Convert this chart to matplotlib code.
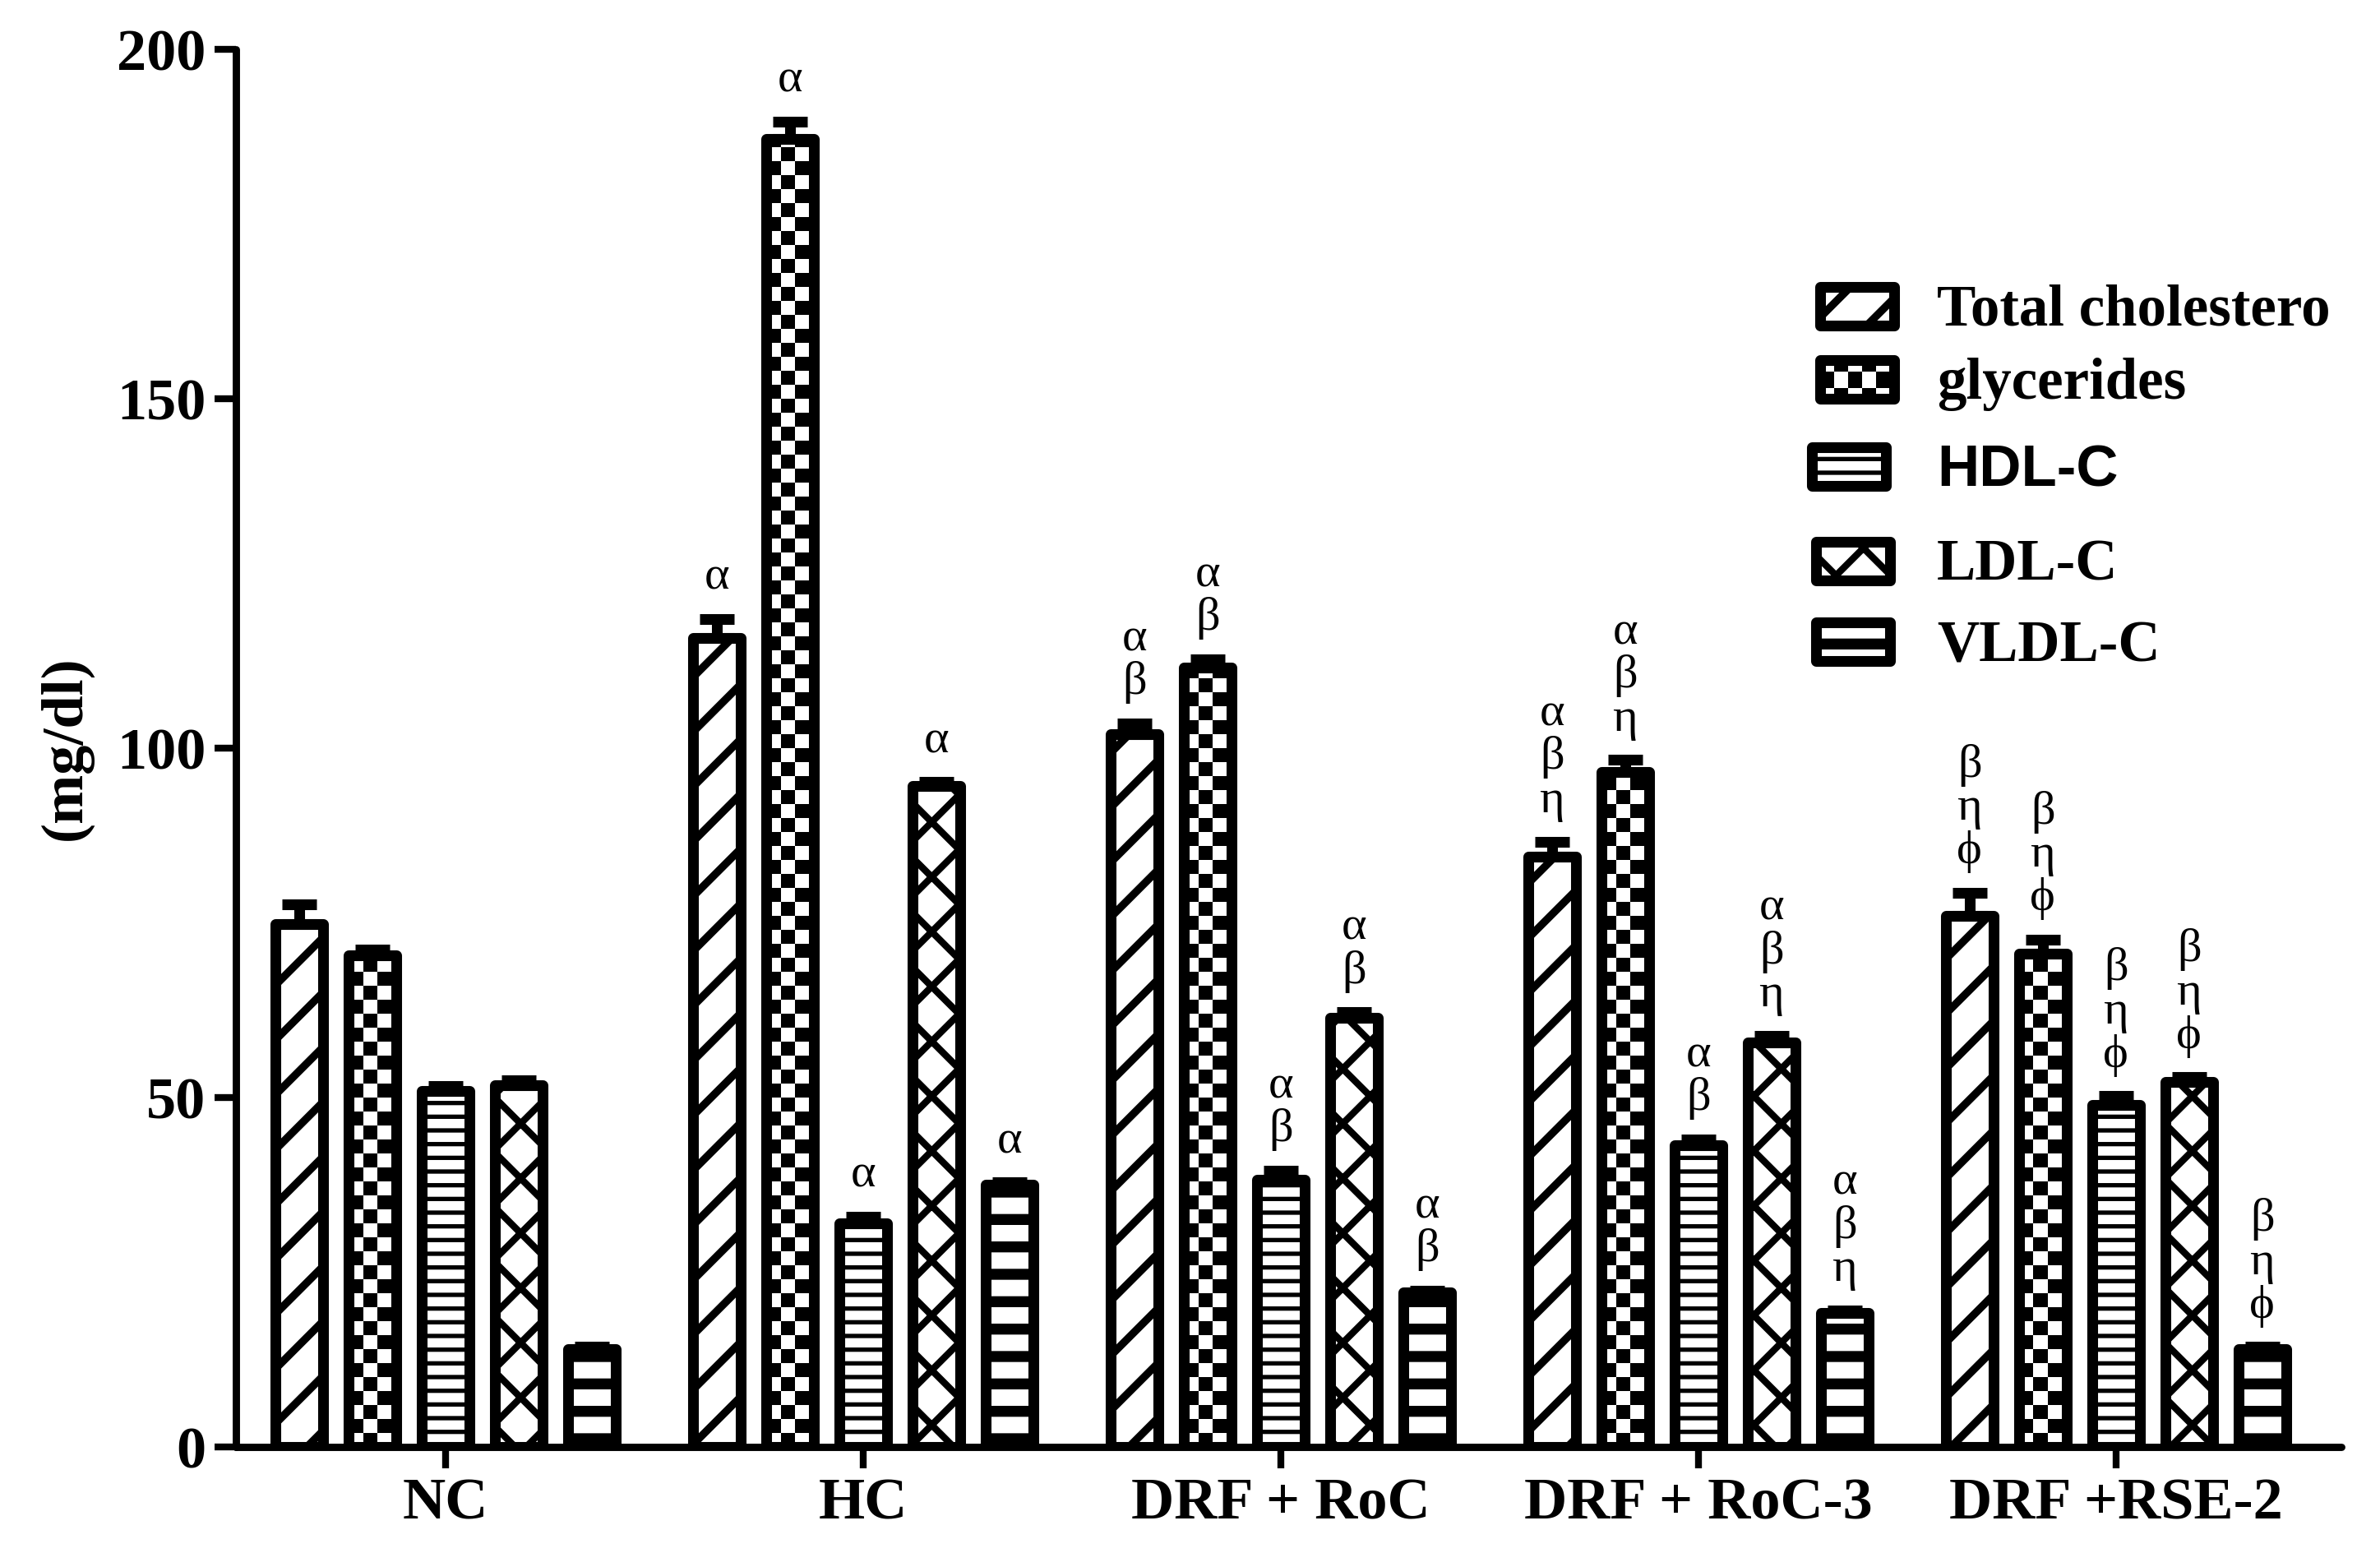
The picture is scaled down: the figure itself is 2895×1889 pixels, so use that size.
"""Lipid profile grouped bar chart (mg/dl) with hatched bars and significance marks."""

import matplotlib

matplotlib.use("Agg")
import matplotlib.pyplot as plt
import matplotlib.transforms as mtransforms
import numpy as np
from matplotlib.collections import PatchCollection
from matplotlib.patches import Rectangle

groups = ["NC", "HC", "DRF + RoC", "DRF + RoC-3", "DRF +RSE-2"]
series = ["Total cholestero", "glycerides", "HDL-C", "LDL-C", "VLDL-C"]

total_chol = [74.8, 115.8, 102.0, 84.5, 76.0]
total_chol_err = [2.9, 2.7, 1.5, 2.1, 3.3]
triglycerides = [70.3, 187.2, 111.5, 96.6, 70.6]
triglycerides_err = [0.9, 2.5, 1.2, 1.7, 2.0]
hdl = [51.0, 32.0, 38.2, 43.2, 49.0]
hdl_err = [0.6, 1.0, 1.3, 0.8, 1.2]
ldl = [51.8, 94.6, 61.4, 57.9, 52.2]
ldl_err = [0.7, 0.6, 0.8, 0.9, 0.7]
vldl = [14.0, 37.5, 22.1, 19.2, 14.0]
vldl_err = [0.3, 0.4, 0.3, 0.3, 0.3]

total_sig = ["", "α", "αβ", "αβη", "βηϕ"]
tg_sig = ["", "α", "αβ", "αβη", "βηϕ"]
hdl_sig = ["", "α", "αβ", "αβ", "βηϕ"]
ldl_sig = ["", "α", "αβ", "αβη", "βηϕ"]
vldl_sig = ["", "α", "αβ", "αβη", "βηϕ"]

yticks = [0, 50, 100, 150, 200]
ylabel = "(mg/dl)"

SERIF = ["Liberation Serif", "DejaVu Serif"]
SANS = ["Liberation Sans", "DejaVu Sans"]
plt.rcParams["font.family"] = SERIF

W, H, DPI = 2895, 1889, 200
EDGE = 4.7
STEP = 0.1752
WIDTH = 0.114
CHECK_W = 0.0335
CHECK_H = 2.0

# hatch, hatch linewidth, legend font
styles = [
    ("/", 3.4, SERIF),
    ("checker", 0.0, SERIF),
    ("--", 1.9, SANS),
    ("x", 3.0, SERIF),
    ("-", 4.8, SERIF),
]


def add_checker(container, box, cw, ch, xref, yref, transform, clip, zorder):
    x0, x1, y0, y1 = box
    i0, i1 = int(np.floor((x0 - xref) / cw)) - 1, int(np.ceil((x1 - xref) / cw)) + 1
    j0, j1 = int(np.floor((y0 - yref) / ch)) - 1, int(np.ceil((y1 - yref) / ch)) + 1
    cells = []
    for i in range(i0, i1):
        for j in range(j0, j1):
            if (i + j) % 2 == 0:
                cells.append(Rectangle((xref + i * cw, yref + j * ch), cw, ch))
    pc = PatchCollection(cells, facecolor="black", edgecolor="none", linewidth=0,
                         transform=transform, zorder=zorder)
    if hasattr(container, "add_collection"):
        container.add_collection(pc, autolim=False)
    else:
        container.add_artist(pc)
    # clip after adding, the axes would otherwise swap in its own clip box
    pc.set_clip_path(clip.get_path(), clip.get_transform())


def set_hatch_lw(patch, lw):
    if hasattr(patch, "set_hatch_linewidth"):
        patch.set_hatch_linewidth(lw)


fig = plt.figure(figsize=(W / DPI, H / DPI), dpi=DPI, facecolor="white")
ax = fig.add_axes([287 / W, 1 - 1760 / H, (2848 - 287) / W, (1760 - 60) / H])

values = [total_chol, triglycerides, hdl, ldl, vldl]
errors = [total_chol_err, triglycerides_err, hdl_err, ldl_err, vldl_err]
marks = [total_sig, tg_sig, hdl_sig, ldl_sig, vldl_sig]
x = np.arange(len(groups))

for k, (vals, errs, sig, (hatch, hlw, _)) in enumerate(zip(values, errors, marks, styles)):
    xs = x + (k - 2) * STEP
    if hatch == "checker":
        bars = ax.bar(xs, vals, WIDTH, facecolor="white", edgecolor="none", zorder=2)
        for bar in bars:
            cx = bar.get_x() + bar.get_width() / 2
            add_checker(ax, (bar.get_x(), bar.get_x() + bar.get_width(), 0, bar.get_height()),
                        CHECK_W, CHECK_H, cx - 0.66 * CHECK_W, 0.0, ax.transData, bar, 2.5)
        ax.bar(xs, vals, WIDTH, fill=False, edgecolor="black", linewidth=EDGE,
               joinstyle="round", zorder=3)
    else:
        plt.rcParams["hatch.linewidth"] = hlw
        bars = ax.bar(xs, vals, WIDTH, facecolor="white", edgecolor="black", linewidth=EDGE,
                      hatch=hatch, joinstyle="round", zorder=3)
        for bar in bars:
            set_hatch_lw(bar, hlw)
    ax.errorbar(xs, vals, yerr=[np.zeros(len(vals)), errs], fmt="none", ecolor="black",
                elinewidth=EDGE, capsize=7.4, capthick=EDGE, zorder=4)
    for xi, v, e, s in zip(xs, vals, errs, sig):
        if s:
            ax.text(xi, v + e + 2.8, "\n".join(s), ha="center", va="bottom", fontsize=21,
                    linespacing=1.02, family=SERIF)

ax.set_xlim(-0.502, 4.540)
ax.set_ylim(0, 200)
ax.set_yticks(yticks)
ax.set_yticklabels([str(t) for t in yticks], fontsize=26, fontweight="bold")
ax.set_xticks(x)
ax.set_xticklabels(groups, fontsize=26, fontweight="bold")
ax.tick_params(axis="both", length=9.5, width=3, direction="out", color="black")
ax.tick_params(axis="y", pad=3.6)
ax.tick_params(axis="x", pad=4)
for side in ("top", "right"):
    ax.spines[side].set_visible(False)
for side in ("left", "bottom"):
    ax.spines[side].set_linewidth(3.2)
    ax.spines[side].set_capstyle("round")

ax.set_ylabel(ylabel, fontsize=26, fontweight="bold")
ax.yaxis.label.set_verticalalignment("center")
ax.yaxis.set_label_coords((80 - 287) / (2848 - 287), 0.5)

# legend drawn in pixel coordinates measured from the top-left corner
px = mtransforms.Affine2D().scale(1 / W, -1 / H).translate(0, 1) + fig.transFigure
legend_y = [372, 461, 567, 682, 780]
legend_dx = [0, 0, -10, -5, -5]
for name, (hatch, hlw, fam), yc, dx in zip(series, styles, legend_y, legend_dx):
    x0 = 2213.5 + dx
    box = Rectangle((x0, yc - 23.5), 90, 47, transform=px, facecolor="white",
                    edgecolor="none", zorder=5)
    fig.add_artist(box)
    if hatch == "checker":
        add_checker(fig, (x0, x0 + 90, yc - 23.5, yc + 23.5), 17.0, 20.0, 2248 + dx, yc - 9,
                    px, box, 6)
        edge = Rectangle((x0, yc - 23.5), 90, 47, transform=px, fill=False,
                         edgecolor="black", linewidth=EDGE, joinstyle="round", zorder=7)
    else:
        plt.rcParams["hatch.linewidth"] = hlw
        edge = Rectangle((x0, yc - 23.5), 90, 47, transform=px, fill=False,
                         edgecolor="black", linewidth=EDGE, hatch=hatch,
                         joinstyle="round", zorder=7)
        set_hatch_lw(edge, hlw)
    fig.add_artist(edge)
    fig.text(2356 / W, 1 - (yc + 24) / H, name, ha="left", va="baseline",
             fontsize=25.5, fontweight="bold", family=fam)

fig.savefig("out.png", dpi=DPI, facecolor="white")
